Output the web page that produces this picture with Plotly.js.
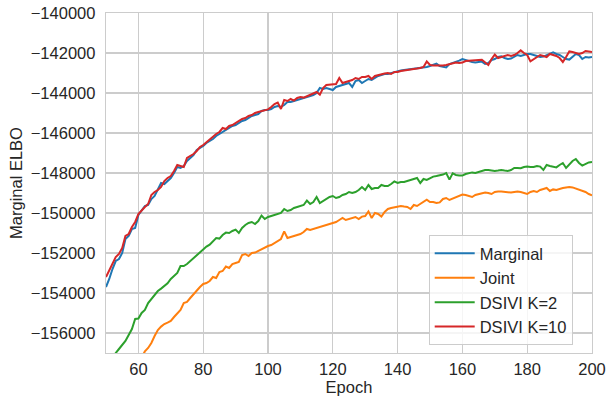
<!DOCTYPE html>
<html>
<head>
<meta charset="utf-8">
<script src="https://cdn.plot.ly/plotly-3.0.1.min.js"></script>
<style>html,body{margin:0;padding:0;background:#fff;}#chart{width:613px;height:396px;}</style>
</head>
<body>
<div id="chart"></div>
<script>
const epochStart = 50;
const seriesNames = ["Marginal", "Joint", "DSIVI K=2", "DSIVI K=10"];

const marginal = [
-153700,-153300,-152800,-152400,-152300,-152000,-151300,-151150,-150800,-150750,
-150100,-149900,-149650,-149600,-149300,-149150,-148850,-148500,-148550,-148400,
-148250,-148000,-147700,-147750,-147650,-147400,-147250,-147100,-146850,-146750,
-146650,-146500,-146400,-146300,-146150,-146050,-145950,-145850,-145750,-145650,
-145600,-145500,-145400,-145350,-145250,-145150,-145100,-145050,-144900,-144850,
-144850,-144800,-144700,-144650,-144700,-144600,-144450,-144450,-144400,-144350,
-144300,-144250,-144200,-144150,-144100,-144000,-143750,-143800,-143750,-143800,
-143850,-143700,-143650,-143600,-143550,-143500,-143700,-143400,-143350,-143500,
-143400,-143300,-143350,-143250,-143150,-143100,-143050,-143050,-143000,-142950,
-142900,-142880,-142850,-142830,-142800,-142800,-142780,-142760,-142740,-142700,
-142650,-142580,-142530,-142650,-142700,-142720,-142550,-142500,-142420,-142380,
-142300,-142350,-142420,-142450,-142470,-142450,-142430,-142550,-142500,-142350,
-142300,-142200,-142170,-142250,-142300,-142280,-142200,-142100,-142150,-142080,
-142050,-142050,-142100,-142150,-142200,-142180,-142100,-142050,-141970,-142050,
-142100,-142200,-142300,-142330,-142200,-142050,-142100,-142300,-142200,-142220,
-142200
];

const joint = [
-160500,-160200,-159900,-159600,-159300,-159000,-158700,-158400,-158100,-157800,
-157500,-157200,-156920,-156750,-156500,-156150,-155850,-155680,-155550,-155480,
-155400,-155200,-155050,-154850,-154500,-154450,-154250,-154050,-153900,-153700,
-153550,-153500,-153400,-153200,-153250,-152950,-152900,-152680,-152750,-152550,
-152500,-152450,-152100,-152050,-152150,-152000,-151980,-151900,-151800,-151700,
-151650,-151600,-151500,-151420,-151300,-150920,-151250,-151200,-151150,-151100,
-151050,-150950,-150800,-150850,-150800,-150750,-150700,-150650,-150600,-150550,
-150500,-150450,-150350,-150250,-150350,-150300,-150250,-150200,-150300,-150180,
-150150,-149920,-150250,-150000,-150050,-150180,-149950,-149800,-149750,-149720,
-149700,-149650,-149680,-149700,-149800,-149600,-149650,-149550,-149450,-149330,
-149450,-149450,-149500,-149470,-149300,-149250,-149350,-149280,-149200,-149150,
-149080,-149100,-149150,-149200,-149100,-149050,-149000,-148980,-149000,-149050,
-148950,-148920,-148930,-148950,-148960,-148980,-148950,-148920,-148950,-149000,
-149050,-148950,-148900,-148950,-148850,-148800,-148750,-148900,-148820,-148850,
-148780,-148750,-148720,-148700,-148720,-148780,-148850,-148900,-148950,-149050,
-149120
];

const dsiviK2 = [
-157900,-157600,-157300,-157000,-156800,-156600,-156400,-156100,-155800,-155300,
-155280,-155000,-154850,-154500,-154300,-154050,-153900,-153780,-153650,-153520,
-153300,-153150,-153000,-152650,-152650,-152550,-152400,-152250,-152100,-151950,
-151800,-151680,-151580,-151400,-151250,-151280,-151100,-150980,-151000,-150900,
-150830,-151000,-150750,-150600,-150500,-150450,-150550,-150400,-150130,-150300,
-150200,-150150,-150100,-150050,-150000,-149800,-149900,-149850,-149750,-149700,
-149650,-149600,-149380,-149550,-149450,-149200,-149500,-149400,-149300,-149200,
-149150,-149250,-149200,-149100,-149050,-148950,-149000,-148950,-148850,-148700,
-148850,-148600,-148800,-148750,-148750,-148600,-148650,-148650,-148550,-148420,
-148500,-148450,-148450,-148400,-148350,-148300,-148250,-148500,-148300,-148350,
-148250,-148180,-148150,-148120,-148080,-148000,-148330,-148020,-148100,-148120,
-148130,-148050,-148000,-147970,-148000,-147950,-147900,-147850,-147850,-147870,
-147900,-147880,-147850,-147880,-147900,-147850,-147750,-147750,-147760,-147700,
-147670,-147700,-147700,-147650,-147680,-147850,-147600,-147650,-147700,-147720,
-147600,-147500,-147750,-147550,-147400,-147300,-147500,-147630,-147550,-147470,
-147450
];

const dsiviK10 = [
-153200,-152850,-152500,-152200,-152050,-151750,-151150,-151050,-150700,-150450,
-150050,-149850,-149700,-149550,-149100,-148950,-148850,-148700,-148400,-148250,
-148150,-147900,-147600,-147650,-147700,-147250,-147150,-147050,-146900,-146700,
-146600,-146450,-146350,-146200,-146050,-145950,-145750,-145800,-145650,-145600,
-145500,-145400,-145300,-145250,-145150,-145100,-145000,-144950,-144900,-144850,
-144820,-144700,-144550,-144480,-144800,-144350,-144400,-144300,-144380,-144250,
-144200,-144230,-144150,-144100,-144000,-143950,-144080,-143750,-143600,-143580,
-143560,-143550,-143250,-143500,-143450,-143400,-143350,-143250,-143300,-143200,
-143200,-143150,-143300,-143150,-143100,-143050,-143030,-143000,-143050,-142950,
-142950,-142900,-142880,-142870,-142850,-142800,-142780,-142750,-142700,-142420,
-142600,-142620,-142630,-142640,-142620,-142600,-142550,-142500,-142480,-142500,
-142480,-142400,-142380,-142370,-142360,-142350,-142340,-142450,-142600,-142300,
-142080,-142250,-142200,-142150,-142100,-142150,-142100,-142000,-141870,-142000,
-142100,-142420,-142300,-142200,-142100,-142150,-142200,-142050,-142100,-142150,
-142250,-142450,-142200,-141920,-141950,-142000,-142050,-142000,-141900,-141920,
-141950
];

const xTickVals = [60, 80, 100, 120, 140, 160, 180, 200];
const xTickText = ["60", "80", "100", "120", "140", "160", "180", "200"];
const yTickVals = [-156000, -154000, -152000, -150000, -148000, -146000, -144000, -142000, -140000];
const yTickText = ["\u2212156000", "\u2212154000", "\u2212152000", "\u2212150000", "\u2212148000", "\u2212146000", "\u2212144000", "\u2212142000", "\u2212140000"];

const colors = ["#1f77b4", "#ff7f0e", "#2ca02c", "#d62728"];
const allSeries = [marginal, joint, dsiviK2, dsiviK10];
const epochs = marginal.map((_, i) => epochStart + i);

const traces = allSeries.map((vals, k) => ({
  x: epochs,
  y: vals,
  type: "scatter",
  mode: "lines",
  name: seriesNames[k],
  line: {color: colors[k], width: 2}
}));

const fontFam = '"Liberation Sans", Arial, sans-serif';
const layout = {
  width: 613,
  height: 396,
  margin: {l: 106, r: 21, t: 13, b: 43, pad: 0},
  paper_bgcolor: "#ffffff",
  plot_bgcolor: "#ffffff",
  font: {family: fontFam, size: 16, color: "#262626"},
  showlegend: true,
  legend: {
    x: 0.664, xanchor: "left", y: 0.347, yanchor: "top",
    bgcolor: "rgba(255,255,255,0.8)", bordercolor: "#cccccc", borderwidth: 1,
    font: {family: fontFam, size: 16.5, color: "#262626"},
    itemwidth: 40, tracegroupgap: 0
  },
  xaxis: {
    range: [50, 200],
    tickmode: "array", tickvals: xTickVals, ticktext: xTickText,
    showgrid: true, gridcolor: "#cccccc", gridwidth: 1.25,
    zeroline: false, showline: true, mirror: true, linecolor: "#cccccc", linewidth: 1.25,
    ticks: "outside", ticklen: 1, tickcolor: "rgba(0,0,0,0)",
    tickfont: {family: fontFam, size: 16.5, color: "#262626"},
    title: {text: "Epoch", font: {family: fontFam, size: 16.5, color: "#262626"}, standoff: 7}
  },
  yaxis: {
    range: [-157000, -140000],
    tickmode: "array", tickvals: yTickVals, ticktext: yTickText,
    showgrid: true, gridcolor: "#cccccc", gridwidth: 1.25,
    zeroline: false, showline: true, mirror: true, linecolor: "#cccccc", linewidth: 1.25,
    ticks: "outside", ticklen: 6, tickcolor: "rgba(0,0,0,0)",
    tickfont: {family: fontFam, size: 16.5, color: "#262626"},
    title: {text: "Marginal ELBO", font: {family: fontFam, size: 16.5, color: "#262626"}, standoff: 4}
  }
};

Plotly.newPlot("chart", traces, layout, {displayModeBar: false, staticPlot: true});
</script>
</body>
</html>
